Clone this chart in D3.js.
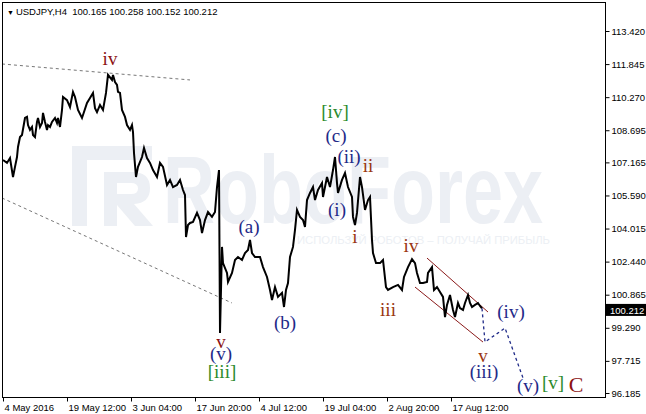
<!DOCTYPE html>
<html><head><meta charset="utf-8">
<script src="https://cdn.jsdelivr.net/npm/d3@7/dist/d3.min.js"></script>
<style>body{margin:0;background:#fff;}svg{display:block;}</style>
</head><body>
<svg id="c" width="646" height="414"></svg>
<script>
// ---- data (H4 bar number since 4 May 2016, close price) ----
const bars = [
  0,4,7,10,12,14,15,17,19,22,
  24,25,27,29,30,32,34,35,37,39,
  40,42,44,45,47,49,52,54,55,57,
  59,60,64,67,70,72,75,79,80,84,
  87,90,92,94,97,100,103,105,109,110,
  112,114,115,117,119,122,124,127,129,130,
  131,133,135,139,141,144,147,150,154,157,
  160,164,167,170,174,177,180,182,183,185,
  187,190,194,197,199,202,205,209,212,214,
  216,217,219,220,224,225,229,232,235,239,
  242,245,247,249,252,257,260,264,267,269,
  272,275,279,281,283,285,287,290,292,294,
  297,300,302,304,307,310,312,315,319,320,
  324,327,330,332,334,335,339,342,345,349,
  350,352,354,357,359,362,365,367,369,370,
  373,377,380,383,385,390,395,399,401,405,
  409,412,414,417,420,424,425,429,431,434,
  437,440,442,444,447,450,452,455,457,460,
  462,465,467,469,472,475,477,479
];
const closes = [
  107.28,107.14,107.37,106.47,106.95,107.42,107.90,108.37,108.47,109.28,
  109.33,108.94,108.71,108.85,108.47,108.37,109.09,109.28,108.85,109.04,
  109.52,109.09,108.71,108.94,108.85,109.09,109.28,109.04,109.28,108.85,
  109.66,110.28,110.13,109.80,110.52,110.28,109.66,109.28,109.42,109.99,
  110.23,110.47,109.75,109.56,109.90,109.66,110.47,111.33,111.09,111.33,
  110.99,110.85,110.52,110.47,109.66,109.33,108.94,108.71,108.94,108.61,
  107.61,106.47,106.95,107.42,107.85,107.37,107.14,106.80,106.47,107.14,
  106.95,106.09,106.33,105.99,106.09,106.33,105.85,105.61,103.61,104.18,
  104.28,104.33,104.76,104.42,103.80,104.42,104.80,104.57,104.80,105.99,
  106.80,99.04,103.14,102.37,101.90,101.47,101.90,102.52,102.66,102.52,
  102.85,102.99,103.47,102.85,102.66,102.66,102.18,101.71,101.09,100.61,
  101.23,100.76,100.95,100.28,101.09,101.42,102.66,103.14,103.95,104.90,
  104.57,104.42,104.09,105.37,105.71,105.99,105.37,105.85,106.18,105.52,
  106.47,105.99,106.80,107.42,106.18,105.71,106.33,106.66,105.99,105.52,
  104.57,104.18,104.76,106.47,105.99,104.90,105.37,105.52,103.47,102.85,
  102.37,102.37,102.52,101.23,101.09,101.23,101.33,101.09,101.71,102.18,
  102.56,102.37,101.90,101.42,101.42,101.47,101.90,102.18,101.09,101.23,
  100.99,100.76,99.80,100.38,100.85,100.14,99.80,100.47,100.23,100.14,
  100.47,100.85,100.47,100.28,100.38,100.47,100.33,100.212
];
const lastPrice = 100.212;
const headerText = "USDJPY,H4  100.165 100.258 100.152 100.212";

const projBars = [479, 482, 502, 520];
const projPrices = [100.212, 98.61, 99.28, 96.90];
const upperChannelBars = [424, 485], upperChannelPrices = [102.61, 100.04];
const lowerChannelBars = [412, 480], lowerChannelPrices = [101.23, 98.61];
const topTrendBars = [-1, 187], topTrendPrices = [111.85, 111.09];
const lowTrendBars = [-1, 229], lowTrendPrices = [105.47, 100.47];

const priceTicks = [113.420,111.845,110.270,108.695,107.165,105.590,104.015,102.440,100.865,99.290,97.715,96.185];
const timeTickBars = [0,64,128,192,256,320,384,448];
const timeTickLabels = ["4 May 2016","19 May 12:00","3 Jun 04:00","17 Jun 20:00","4 Jul 12:00","19 Jul 04:00","2 Aug 20:00","17 Aug 12:00"];

const waveTexts  = ["iv","[iv]","(c)","(ii)","ii","(i)","i","iv","iii","(a)","(b)","v","(v)","[iii]","(iv)","v","(iii)","(v)","[v]","C"];
const waveBars   = [107,332,333,346,365,334,352,408,385,246,282,218,218,219,508,480,481,525,550,573];
const wavePrices = [111.80,109.28,108.14,107.14,106.71,104.61,103.33,102.90,99.85,103.80,99.23,98.33,97.76,96.90,99.76,97.66,96.90,96.23,96.38,96.23];
const waveDegree = ["minor","intermediate","minute","minute","minuette","minute","minuette","minuette","minuette","minute","minute","minor","minute","intermediate","minute","minuette","minute","minute","intermediate","primary"];

// ---- drawing ----
const svg = d3.select("#c");
const L = 2, R = 605, T = 2, B = 397;
const x = d3.scaleLinear().domain([0, 602]).range([3, 605]);
const y = d3.scaleLinear().domain([96.185, 113.42]).range([393, 31]);
const degreeColor = {minor:"#8b1212", primary:"#8b1212", minuette:"#9a3510", minute:"#1f2a88", intermediate:"#2b8a2b"};
const wm = "#eceff4";

// watermark
const w = svg.append("g");
w.append("rect").attr("x",72).attr("y",146).attr("width",80).attr("height",14).attr("fill",wm);
w.append("rect").attr("x",72).attr("y",146).attr("width",15).attr("height",80).attr("fill",wm);
w.append("path").attr("fill",wm).attr("fill-rule","evenodd")
 .attr("d","M104,172 H132 Q150,172 150,188 Q150,203 134,204 L153,226 H135 L117,205 V226 H104 Z M117,183 V194 H131 Q138,194 138,188.5 Q138,183 131,183 Z");
w.append("text").attr("x",163).attr("y",223).attr("font-family","Liberation Sans, Arial, sans-serif")
 .attr("font-weight","bold").attr("font-size",96).attr("fill",wm)
 .attr("textLength",380).attr("lengthAdjust","spacingAndGlyphs").text("RoboForex");
w.append("text").attr("x",297).attr("y",244).attr("font-family","Liberation Sans, Arial, sans-serif")
 .attr("font-size",11).attr("fill",wm)
 .attr("textLength",253).attr("lengthAdjust","spacingAndGlyphs").text("ИСПОЛЬЗУЙ РОБОТОВ – ПОЛУЧАЙ ПРИБЫЛЬ");

// trend lines (gray dashed)
const seg = (bs, ps) => d3.line()(bs.map((b,i)=>[x(b), y(ps[i])]));
svg.append("path").attr("d", seg(topTrendBars, topTrendPrices)).attr("stroke","#777").attr("stroke-dasharray","3,3").attr("fill","none");
svg.append("path").attr("d", seg(lowTrendBars, lowTrendPrices)).attr("stroke","#777").attr("stroke-dasharray","3,3").attr("fill","none");

// channel (dark red)
svg.append("path").attr("d", seg(upperChannelBars, upperChannelPrices)).attr("stroke","#8b1a1a").attr("stroke-width",1).attr("fill","none");
svg.append("path").attr("d", seg(lowerChannelBars, lowerChannelPrices)).attr("stroke","#8b1a1a").attr("stroke-width",1).attr("fill","none");

// price line
const line = d3.line().x((d,i)=>x(bars[i])).y(d=>y(d));
svg.append("path").attr("d", line(closes)).attr("stroke","#000").attr("stroke-width",2)
 .attr("stroke-linejoin","miter").attr("fill","none");

// projection (navy dashed)
svg.append("path").attr("d", seg(projBars, projPrices)).attr("stroke","#1f2a88").attr("stroke-width",1.3)
 .attr("stroke-dasharray","3,3").attr("fill","none");

// wave labels
svg.append("g").selectAll("text").data(waveTexts).join("text")
 .attr("x",(d,i)=>x(waveBars[i])).attr("y",(d,i)=>y(wavePrices[i]))
 .attr("text-anchor","middle").attr("font-family","Liberation Serif, Times New Roman, serif")
 .attr("font-size",(d,i)=>waveDegree[i]==="primary"?22:19)
 .attr("fill",(d,i)=>degreeColor[waveDegree[i]]).text(d=>d);

// frame
svg.append("rect").attr("x",L+0.5).attr("y",T+0.5).attr("width",R-L).attr("height",B-T)
 .attr("fill","none").attr("stroke","#000");

// axes
const font = "Liberation Sans, Arial, sans-serif";
const ya = svg.append("g").attr("transform",`translate(${R+0.5},0)`)
 .call(d3.axisRight(y).tickValues(priceTicks).tickFormat(d3.format(".3f")).tickSize(4).tickPadding(2));
ya.select(".domain").remove();
ya.selectAll("text").attr("font-family",font).attr("font-size",9.5).attr("fill","#000");
ya.selectAll("line").attr("stroke","#000");

const xa = svg.append("g").attr("transform",`translate(0,${B+0.5})`)
 .call(d3.axisBottom(x).tickValues(timeTickBars).tickFormat((d,i)=>timeTickLabels[i]).tickSize(4).tickPadding(3));
xa.select(".domain").remove();
xa.selectAll("text").attr("font-family",font).attr("font-size",9.5).attr("fill","#000")
 .attr("text-anchor","start").attr("dx",1);
xa.selectAll("line").attr("stroke","#000");

// current price box
const py = y(lastPrice) + 2;
svg.append("rect").attr("x",R+1).attr("y",py-6.5).attr("width",646-R-1).attr("height",12).attr("fill","#000");
svg.append("text").attr("x",R+5).attr("y",py).attr("dy","0.35em").attr("font-family",font)
 .attr("font-size",9.5).attr("fill","#fff").text(d3.format(".3f")(lastPrice));

// header
const hd = svg.append("text").attr("x",7).attr("y",15).attr("font-family",font).attr("font-size",9.5).attr("fill","#000");
hd.append("tspan").attr("font-size",7).text("▼ ");
hd.append("tspan").attr("xml:space","preserve").style("white-space","pre").text(headerText);
</script>
</body></html>
